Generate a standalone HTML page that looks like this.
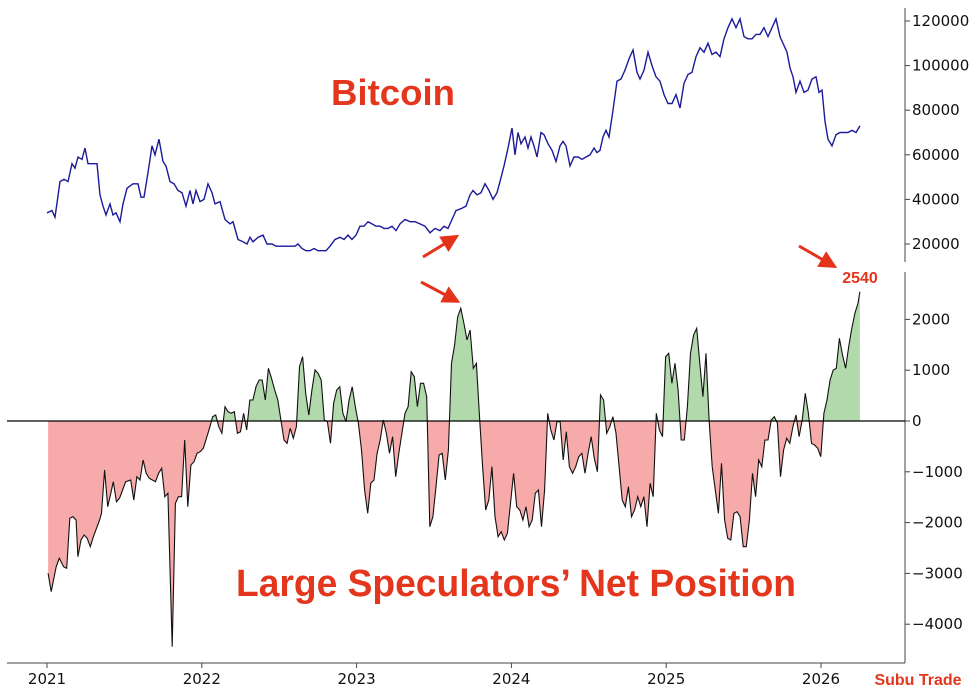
<!DOCTYPE html>
<html><head><meta charset="utf-8"><style>
body{margin:0;background:#fff;width:974px;height:693px;overflow:hidden}
svg{display:block;font-family:"DejaVu Sans","Liberation Sans",sans-serif}
</style></head><body>
<svg id="s" width="974" height="693" viewBox="0 0 974 693" xmlns="http://www.w3.org/2000/svg">
<defs>
<clipPath id="up"><rect x="0" y="0" width="974" height="421"/></clipPath>
<clipPath id="dn"><rect x="0" y="421" width="974" height="300"/></clipPath>
<marker id="ah" markerWidth="6" markerHeight="6" refX="4" refY="3" orient="auto"><path d="M0,0 L6,3 L0,6 z" fill="#e5321a"/></marker>
</defs>
<g id="g"></g>
<line x1="905" y1="8" x2="905" y2="262" stroke="#444" stroke-width="1"/>
<line x1="905" y1="272" x2="905" y2="663" stroke="#444" stroke-width="1"/>
<line x1="7" y1="663" x2="905" y2="663" stroke="#444" stroke-width="1"/>
<line x1="7" y1="421" x2="905" y2="421" stroke="#000" stroke-width="1.3"/>
<g font-size="15" fill="#111" id="ticks"></g>
<text x="393" y="105" font-family="Liberation Sans,sans-serif" font-weight="bold" font-size="36" fill="#e3361c" text-anchor="middle" textLength="124" lengthAdjust="spacingAndGlyphs">Bitcoin</text>
<text x="516" y="596" font-family="Liberation Sans,sans-serif" font-weight="bold" font-size="38" fill="#e3361c" text-anchor="middle" textLength="560" lengthAdjust="spacingAndGlyphs">Large Speculators’ Net Position</text>
<text x="860" y="283" font-family="Liberation Sans,sans-serif" font-weight="bold" font-size="16" fill="#e3361c" text-anchor="middle">2540</text>
<text x="918" y="685" font-family="Liberation Sans,sans-serif" font-weight="bold" font-size="16" fill="#e3361c" text-anchor="middle">Subu Trade</text>
<line x1="423" y1="257" x2="454" y2="238" stroke="#e5321a" stroke-width="3" marker-end="url(#ah)"/>
<line x1="421" y1="282" x2="455" y2="300" stroke="#e5321a" stroke-width="3" marker-end="url(#ah)"/>
<line x1="799" y1="246" x2="832" y2="265" stroke="#e5321a" stroke-width="3" marker-end="url(#ah)"/>
</svg>
<script>
var btc=[47,34000,52,35000,55,32000,60,48000,64,49000,68,48000,72,56000,75,54000,78,59000,82,58000,85,63000,88,56000,92,56000,97,56000,100,42000,103,37000,106,33000,110,38000,113,33000,116,34000,120,30000,123,38000,127,45000,130,46000,133,47000,138,47000,141,41000,144,41000,148,52000,152,64000,155,60000,159,67000,163,57000,166,55000,170,48000,174,47000,178,44000,182,43000,186,37000,190,44000,193,38000,196,44000,200,39000,204,40000,208,47000,212,43000,215,38000,220,39000,225,31000,230,29000,233,30000,238,22000,243,21000,247,20000,250,23000,253,21000,258,23000,263,24000,267,20000,272,20000,276,19000,280,19000,285,19000,290,19000,295,19000,298,20000,302,18000,306,17000,310,17000,314,18000,318,17000,322,17000,326,17000,330,19000,335,22000,340,23000,344,22000,348,24000,352,22000,356,24000,360,28000,364,28000,368,30000,372,29000,376,28000,380,28000,384,27000,388,27000,392,28000,396,26000,400,29000,405,31000,410,30000,415,30000,420,29000,425,28000,430,25000,435,27000,440,26000,444,28000,448,27000,452,31000,456,35000,462,36000,466,37000,470,42000,473,44000,477,42000,481,43000,485,47000,489,44000,493,40000,497,43000,500,48000,504,55000,508,63000,512,72000,515,60000,518,70000,521,65000,525,68000,528,63000,531,68000,534,64000,537,59000,541,70000,544,69000,548,65000,552,62000,556,57000,560,64000,563,66000,566,64000,570,55000,574,59000,578,59000,582,58000,586,59000,590,60000,594,63000,597,61000,600,62000,603,68000,606,71000,609,68000,613,80000,617,93000,621,94000,625,98000,629,103000,633,107000,637,97000,640,94000,644,98000,648,106000,652,100000,656,95000,660,93000,664,87000,668,83000,672,83000,676,87000,680,81000,684,92000,688,96000,692,97000,696,104000,700,108000,704,106000,708,110000,712,105000,716,106000,720,104000,724,112000,728,117000,732,121000,736,117000,740,121000,744,113000,748,112000,752,112000,756,114000,760,114000,764,117000,768,113000,772,117000,776,121000,780,113000,784,109000,787,106000,790,99000,793,95000,796,88000,800,93000,804,88000,808,89000,812,94000,816,95000,819,88000,822,89000,825,75000,828,67000,832,64000,836,69000,840,70000,844,70000,848,70000,852,71000,856,70000,860,73000];
var sp=[77,880,82,935,90,860,95,835,102,860,107,865,112,715,117,710,122,720,125,830,130,780,135,765,140,775,145,800,150,770,160,720,163,700,168,570,173,680,178,640,182,605,187,665,192,655,197,630,202,605,210,600,215,660,220,590,225,600,230,540,235,580,240,595,245,600,250,605,255,580,260,565,265,650,270,640,277,1100,282,670,287,650,292,650,297,480,302,680,307,555,312,545,317,520,322,515,327,505,332,475,337,445,342,410,347,405,352,440,357,460,362,380,367,395,372,400,377,395,382,460,387,455,392,400,397,450,402,360,407,360,412,320,417,300,422,300,427,360,432,265,437,295,442,330,447,360,452,420,457,480,462,490,467,445,472,475,477,440,482,260,487,230,492,340,497,405,502,330,507,270,512,280,517,300,522,420,527,425,532,490,537,370,542,330,547,320,552,400,557,425,562,360,567,320,572,380,577,430,582,510,587,630,592,700,597,610,602,600,607,520,612,480,617,420,622,460,627,520,632,470,637,590,642,520,647,460,652,400,657,380,662,275,667,290,672,380,677,310,682,310,687,350,692,740,697,710,702,620,707,525,712,520,717,600,722,510,727,250,732,195,737,110,742,85,747,130,752,180,757,150,762,265,767,250,772,410,777,560,782,690,787,660,792,560,797,710,802,770,807,755,812,780,817,760,822,670,827,580,832,680,837,690,842,720,847,680,852,740,857,720,862,640,867,630,872,740,877,630,882,400,887,450,892,480,897,425,902,425,907,540,912,455,917,560,922,580,927,560,932,530,937,520,942,580,947,520,952,470,957,535,962,575,967,345,972,360,977,460,982,440,987,410,992,460,997,560,1002,660,1007,680,1012,620,1017,710,1022,690,1027,650,1032,680,1037,650,1042,740,1047,610,1052,650,1057,400,1062,450,1067,470,1072,230,1077,220,1082,310,1087,250,1092,330,1097,480,1102,480,1107,380,1112,220,1117,165,1122,145,1127,250,1132,350,1137,220,1142,420,1147,560,1152,630,1157,700,1162,550,1167,720,1172,775,1177,780,1182,700,1187,695,1192,710,1197,800,1202,800,1207,720,1212,580,1217,650,1222,540,1227,560,1232,480,1237,480,1242,420,1247,410,1252,430,1257,590,1262,510,1267,475,1272,490,1277,440,1282,405,1287,470,1292,420,1297,340,1302,400,1307,490,1312,495,1317,505,1322,530,1327,400,1332,360,1337,300,1342,270,1347,265,1352,175,1357,225,1362,265,1367,200,1372,145,1377,100,1382,70,1385,35];
var NS="http://www.w3.org/2000/svg",g=document.getElementById('g');
function el(t,a,p){var e=document.createElementNS(NS,t);for(var k in a)e.setAttribute(k,a[k]);(p||g).appendChild(e);return e;}
var b="";for(var i=0;i<btc.length;i+=2){b+=(i?"L":"M")+btc[i].toFixed(1)+","+(21+(120000-btc[i+1])/20000*44.6).toFixed(1);}
var s="",x0,x1;for(i=0;i<sp.length;i+=2){var x=48+(sp[i]/1.6-48)*0.993,y=280+sp[i+1]/3;if(!i)x0=x;x1=x;s+=(i?"L":"M")+x.toFixed(1)+","+y.toFixed(1);}
var area=s+"L"+x1.toFixed(1)+",421L"+x0.toFixed(1)+",421Z";
el('path',{d:area,fill:'#a8d5a2',"clip-path":"url(#up)",opacity:"0.9"});
el('path',{d:area,fill:'#f7aaaa',"clip-path":"url(#dn)"});
el('path',{d:s,fill:'none',stroke:'#111','stroke-width':1.1});
el('path',{d:b,fill:'none',stroke:'#1a1a9a','stroke-width':1.4});
var T=document.getElementById('ticks');
[120000,100000,80000,60000,40000,20000].forEach(function(v){var y=21+(120000-v)/20000*44.6;el('line',{x1:905,x2:910,y1:y,y2:y,stroke:'#444'},T);el('text',{x:912,y:y+5},T).textContent=v;});
[2000,1000,0,-1000,-2000,-3000,-4000].forEach(function(v){var y=421-v*50.8/1000;el('line',{x1:905,x2:910,y1:y,y2:y,stroke:'#444'},T);el('text',{x:912,y:y+5},T).textContent=(v<0?"\u2212"+(-v):v);});
for(var yr=0;yr<6;yr++){var x=47+yr*154.8;el('line',{x1:x,x2:x,y1:663,y2:668,stroke:'#444'},T);el('text',{x:x,y:684,"text-anchor":"middle"},T).textContent=2021+yr;}
</script>
</body></html>
